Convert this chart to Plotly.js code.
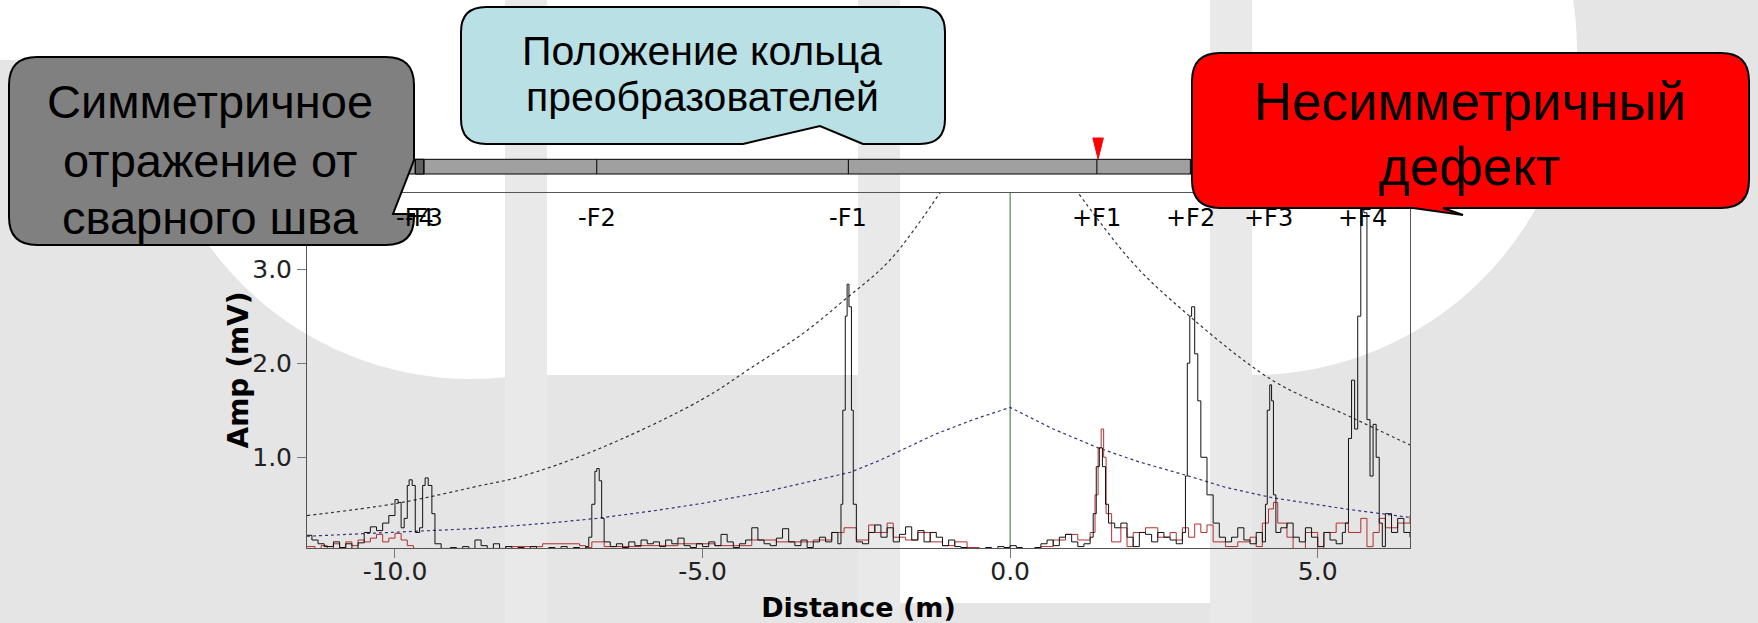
<!DOCTYPE html>
<html><head><meta charset="utf-8">
<script src="https://cdn.plot.ly/plotly-3.0.1.min.js"></script>
<style>html,body{margin:0;padding:0;background:#e5e5e5;overflow:hidden}#chart{width:1758px;height:623px}</style>
</head><body><div id="chart"></div>
<script>
// ---------------- data ----------------
const f_labels = ['-F4','-F3','-F2','-F1','+F1','+F2','+F3','+F4'];
const f_pos    = [-9.67,-9.53,-6.72,-2.63,1.41,2.93,4.20,5.72];
const ring_pos = 1.43;
const x_tickvals = [-10,-5,0,5];
const x_ticktext = ['-10.0','-5.0','0.0','5.0'];
const y_tickvals = [1,2,3];
const y_ticktext = ['1.0','2.0','3.0'];
const x_title = 'Distance (m)';
const y_title = 'Amp (mV)';

const dac_x = [-11.43,-9.97,-8.6,-7.98,-6.72,-5.02,-4.19,-3.36,-2.70,-1.95,-1.0,null,0.95,1.95,2.62,4.26,5.53,6.5];
const dac_y = [0.38,0.51,0.70,0.79,1.08,1.61,1.96,2.32,2.67,3.10,3.95,null,3.95,3.10,2.67,1.82,1.43,1.13];

const dac2_x = [-11.43,-10.0,-8.6,-7.5,-6.72,-5.8,-5.0,-4.0,-3.0,-2.6,-2.11,-1.2,-0.6,0,0.7,1.43,2.1,2.85,3.5,4.26,5.45,6.5];
const dac2_y = [0.16,0.20,0.245,0.30,0.35,0.43,0.51,0.63,0.78,0.84,0.97,1.25,1.40,1.53,1.30,1.10,0.95,0.81,0.68,0.57,0.45,0.36];

const black_x = [-11.43,-11.35,-11.25,-11.15,-11.0,-10.9,-10.8,-10.7,-10.6,-10.5,-10.4,-10.3,-10.2,-10.1,-10.0,-9.95,-9.9,-9.85,-9.8,-9.77,-9.72,-9.67,-9.6,-9.55,-9.51,-9.46,-9.4,-9.35,-9.25,
-9.1,-9.0,-8.9,-8.8,-8.7,-8.6,-8.5,-8.4,-8.3,-8.2,-8.1,-8.0,-7.9,-7.8,-7.7,-7.6,-7.5,-7.4,-7.3,-7.2,-7.1,-7.0,-6.9,
-6.85,-6.8,-6.75,-6.72,-6.68,-6.64,-6.6,-6.5,
-6.4,-6.3,-6.2,-6.1,-6.0,-5.9,-5.8,-5.7,-5.6,-5.5,-5.4,-5.3,-5.2,-5.1,-5.0,-4.9,-4.8,-4.7,-4.6,-4.5,-4.4,-4.3,-4.2,-4.1,-4.0,-3.9,-3.8,-3.7,-3.6,-3.5,-3.4,-3.3,-3.2,-3.1,-3.0,-2.9,-2.8,
-2.75,-2.72,-2.68,-2.65,-2.62,-2.58,-2.55,-2.5,
-2.4,-2.3,-2.2,-2.1,-2.0,-1.9,-1.8,-1.7,-1.6,-1.5,-1.4,-1.3,-1.2,-1.1,-1.0,-0.9,-0.8,-0.7,-0.6,-0.5,-0.4,-0.3,-0.2,-0.1,0,0.1,0.2,0.3,
0.4,0.5,0.6,0.7,0.8,0.9,1.0,1.1,1.2,1.3,1.35,1.4,1.45,1.5,1.55,1.6,1.7,1.8,1.9,2.0,2.1,2.2,2.3,2.4,2.5,2.6,2.7,2.8,
2.85,2.88,2.92,2.95,3.0,3.05,3.1,3.2,3.3,3.4,3.5,3.6,3.7,3.8,3.9,4.0,4.1,
4.15,4.18,4.22,4.25,4.28,4.32,4.4,4.5,4.6,4.7,4.8,4.9,5.0,5.1,5.2,5.3,5.4,5.45,
5.5,5.55,5.6,5.65,5.7,5.75,5.8,5.85,5.9,5.95,6.0,6.05,6.1,6.2,6.3,6.4,6.5];
const black_y = [0.17,0.12,0.08,0.05,0.10,0.04,0.08,0.03,0.09,0.20,0.26,0.22,0.30,0.38,0.55,0.52,0.25,0.35,0.70,0.76,0.70,0.20,0.25,0.70,0.78,0.70,0.40,0.08,0.03,
0.04,0.02,0.05,0.03,0.12,0.06,0.03,0.08,0.02,0.05,0.03,0.04,0.02,0.05,0.03,0.02,0.04,0.03,0.05,0.02,0.04,0.03,0.05,
0.15,0.50,0.85,0.88,0.75,0.35,0.10,0.05,
0.08,0.04,0.10,0.06,0.12,0.08,0.10,0.05,0.12,0.08,0.14,0.06,0.04,0.08,0.05,0.10,0.06,0.18,0.10,0.04,0.08,0.12,0.25,0.12,0.08,0.06,0.14,0.24,0.10,0.06,0.12,0.04,0.10,0.15,0.10,0.20,0.08,
0.50,1.50,2.50,2.84,2.60,1.50,0.50,0.10,
0.08,0.20,0.28,0.15,0.25,0.10,0.18,0.26,0.12,0.22,0.10,0.20,0.15,0.06,0.12,0.05,0.04,0.02,0.03,0.02,0.04,0.02,0.05,0.04,0.06,0.04,0.02,0.00,
0.04,0.08,0.12,0.06,0.15,0.18,0.10,0.05,0.08,0.15,0.40,0.90,1.10,0.90,0.50,0.30,0.25,0.30,0.15,0.05,0.20,0.18,0.10,0.20,0.15,0.12,0.08,0.20,
0.80,2.00,2.50,2.60,2.10,1.60,1.00,0.60,0.30,0.15,0.10,0.15,0.25,0.12,0.08,0.20,0.10,
0.50,1.50,1.77,1.60,0.60,0.20,0.25,0.30,0.15,0.10,0.25,0.15,0.05,0.20,0.12,0.08,0.20,0.30,
1.20,1.82,1.30,2.50,3.65,3.60,1.40,0.80,1.35,1.00,0.30,0.05,0.40,0.20,0.35,0.20,0.15];

const red_x = [-11.43,-11.3,-11.2,-11.1,-11.0,-10.9,-10.8,-10.7,-10.6,-10.5,-10.4,-10.3,-10.2,-10.1,-10.0,-9.9,-9.8,-9.7,-9.6,-9.5,-9.4,-9.3,
-8.2,-7.6,-7.0,-6.9,-6.8,-6.6,-6.0,-5.4,-4.8,-4.2,-3.8,-3.2,-2.9,-2.7,-2.5,-2.3,-2.2,-2.0,-1.9,-1.7,-1.5,-1.3,-1.1,-0.9,-0.7,-0.5,0,0.3,0.5,0.7,0.9,1.1,1.3,
1.38,1.43,1.48,1.52,1.56,1.65,1.8,1.9,2.0,2.2,2.4,2.6,2.7,2.8,2.9,3.0,3.1,3.2,3.3,3.5,3.7,3.9,4.0,4.1,4.2,4.28,4.35,4.5,4.6,4.8,5.0,5.1,5.3,5.5,5.7,5.8,5.9,6.0,6.1,6.3,6.5];
const red_y = [0.05,0.02,0.06,0.03,0.08,0.04,0.10,0.06,0.12,0.10,0.14,0.18,0.10,0.14,0.19,0.12,0.06,0.03,0.02,0.03,0.02,0.03,
0.05,0.08,0.06,0.04,0.10,0.05,0.06,0.08,0.06,0.12,0.10,0.12,0.20,0.25,0.12,0.28,0.20,0.30,0.15,0.12,0.20,0.10,0.06,0.10,0.04,0.02,0.03,0.02,0.05,0.12,0.18,0.12,0.20,
0.60,1.10,1.30,1.00,0.40,0.10,0.25,0.05,0.20,0.25,0.15,0.20,0.12,0.25,0.15,0.29,0.20,0.28,0.10,0.05,0.10,0.15,0.05,0.30,0.45,0.52,0.30,0.15,0.02,0.20,0.00,0.20,0.30,0.20,0.35,0.05,0.20,0.35,0.25,0.30,0.38];

const note_weld   = ['Симметричное','отражение от','сварного шва'];
const note_ring   = ['Положение кольца','преобразователей'];
const note_defect = ['Несимметричный','дефект'];

// ---------------- geometry helpers (pixels -> paper) ----------------
const L=307, R=1410, T=193, B=548;
const px = v => (v-L)/(R-L);
const py = v => (B-v)/(B-T);
function path(cmds){
  return cmds.map(c=>{
    if(c[0]==='Z') return 'Z';
    let s=c[0];
    for(let i=1;i<c.length;i+=2){ s+=' '+px(c[i]).toFixed(5)+','+py(c[i+1]).toFixed(5); }
    return s;
  }).join(' ');
}
const WHITE='#ffffff', BG='#e5e5e5';
const shapes = [];
// background decoration
shapes.push({type:'circle',xref:'paper',yref:'paper',x0:px(147),x1:px(795),y0:py(379),y1:py(-269),fillcolor:WHITE,line:{width:0},layer:'below'});
shapes.push({type:'rect',xref:'paper',yref:'paper',x0:px(-5),x1:px(505),y0:py(60),y1:py(-5),fillcolor:WHITE,line:{width:0},layer:'below'});
shapes.push({type:'rect',xref:'paper',yref:'paper',x0:px(545),x1:px(860),y0:py(375),y1:py(-5),fillcolor:WHITE,line:{width:0},layer:'below'});
shapes.push({type:'rect',xref:'paper',yref:'paper',x0:px(900),x1:px(1210),y0:py(603),y1:py(-5),fillcolor:WHITE,line:{width:0},layer:'below'});
shapes.push({type:'circle',xref:'paper',yref:'paper',x0:px(927),x1:px(1577),y0:py(375),y1:py(-275),fillcolor:WHITE,line:{width:0},layer:'below'});
[[505,547],[858,900],[1210,1252]].forEach(b=>shapes.push({type:'rect',xref:'paper',yref:'paper',x0:px(b[0]),x1:px(b[1]),y0:py(630),y1:py(-5),fillcolor:'#e9e9e9',line:{width:0},layer:'below'}));

// pipe bar with transducer ring marks
shapes.push({type:'rect',xref:'paper',yref:'paper',x0:px(360),x1:px(1410),y0:py(174),y1:py(159.3),fillcolor:'#a0a0a0',line:{color:'#000',width:1},layer:'above'});
shapes.push({type:'rect',xref:'x',yref:'paper',x0:f_pos[0],x1:f_pos[1],y0:py(174),y1:py(159.3),fillcolor:'#606060',line:{color:'#000',width:1},layer:'above'});
f_pos.forEach(f=>shapes.push({type:'line',xref:'x',yref:'paper',x0:f,x1:f,y0:py(174),y1:py(159.3),line:{color:'#000',width:1},layer:'above'}));
shapes.push({type:'path',xref:'x',yref:'paper',path:'M '+(ring_pos-0.085)+','+py(138)+' L '+(ring_pos+0.085)+','+py(138)+' L '+ring_pos+','+py(159)+' Z',fillcolor:'#ff0000',line:{color:'#ff0000',width:1},layer:'above'});
// zero line
shapes.push({type:'line',xref:'x',yref:'paper',x0:0,x1:0,y0:0,y1:1,line:{color:'#2f6f2f',width:1},layer:'below'});

// callouts
shapes.push({type:'path',xref:'paper',yref:'paper',layer:'above',fillcolor:'#808080',line:{color:'#000',width:2},
  path:path([['M',37,57],['L',386,57],['Q',414,57,414,85],['L',414,160],['L',393,214],['L',414,214],['L',414,217],['Q',414,245,386,245],['L',37,245],['Q',9,245,9,217],['L',9,85],['Q',9,57,37,57],['Z']])});
shapes.push({type:'path',xref:'paper',yref:'paper',layer:'above',fillcolor:'#b9e0e4',line:{color:'#000',width:2},
  path:path([['M',486,7],['L',920,7],['Q',945,7,945,32],['L',945,119],['Q',945,144,920,144],['L',863,144],['L',820,126],['L',743,144],['L',486,144],['Q',461,144,461,119],['L',461,32],['Q',461,7,486,7],['Z']])});
shapes.push({type:'path',xref:'paper',yref:'paper',layer:'above',fillcolor:'#ff0000',line:{color:'#000',width:2},
  path:path([['M',1220,53],['L',1721,53],['Q',1749,53,1749,81],['L',1749,180],['Q',1749,208,1721,208],['L',1443,208],['L',1463,215],['L',1413,208],['L',1220,208],['Q',1192,208,1192,180],['L',1192,81],['Q',1192,53,1220,53],['Z']])});

const annotations = [];
f_labels.forEach((t,i)=>annotations.push({x:f_pos[i],xref:'x',y:py(218),yref:'paper',text:t,showarrow:false,xanchor:'center',yanchor:'middle',font:{family:'DejaVu Sans',size:24,color:'#000'}}));
const A = (t,x,y,fam,size)=>annotations.push({x:px(x),y:py(y),xref:'paper',yref:'paper',text:t,showarrow:false,xanchor:'center',yanchor:'middle',font:{family:fam,size:size,color:'#000'}});
note_weld.forEach((t,i)=>A(t,210,[102,161,217.5][i],'Liberation Sans',47));
note_ring.forEach((t,i)=>A(t,702,[51,97][i],'Liberation Sans',41));
note_defect.forEach((t,i)=>A(t,1470,[101.5,166][i],'Liberation Sans',53));
// y-axis title
annotations.push({x:px(238),y:py(370.5),xref:'paper',yref:'paper',text:y_title,textangle:-90,showarrow:false,xanchor:'center',yanchor:'middle',font:{family:'DejaVu Sans',size:28,weight:'bold',color:'#000'}});

const traces = [
  {x:dac_x,y:dac_y,mode:'lines',line:{color:'#333333',width:1.2,dash:'dot',shape:'spline'},connectgaps:false,hoverinfo:'skip'},
  {x:dac2_x,y:dac2_y,mode:'lines',line:{color:'#33337a',width:1.2,dash:'dot',shape:'linear'},hoverinfo:'skip'},
  {x:red_x,y:red_y,mode:'lines',line:{color:'#b03030',width:1,shape:'hv'},hoverinfo:'skip'},
  {x:black_x,y:black_y,mode:'lines',line:{color:'#111111',width:1,shape:'hv'},hoverinfo:'skip'}
];

const layout = {
  width:1758,height:623,
  margin:{l:L,r:1758-R,t:T,b:623-B,pad:0},
  paper_bgcolor:BG, plot_bgcolor:'rgba(0,0,0,0)',
  showlegend:false,
  xaxis:{range:[-11.43,6.5],tickvals:x_tickvals,ticktext:x_ticktext,ticks:'outside',ticklen:9,tickcolor:'#777',ticklabelstandoff:-8,
    showgrid:false,zeroline:false,showline:true,linecolor:'#555',linewidth:1,mirror:true,
    tickfont:{family:'DejaVu Sans',size:25,color:'#222'},
    title:{text:x_title,font:{family:'DejaVu Sans',size:27,weight:'bold',color:'#000'},standoff:15}},
  yaxis:{range:[0.035,3.81],tickvals:y_tickvals,ticktext:y_ticktext,ticks:'outside',ticklen:9,tickcolor:'#777',
    showgrid:false,zeroline:false,showline:true,linecolor:'#555',linewidth:1,mirror:true,
    tickfont:{family:'DejaVu Sans',size:25,color:'#222'}},
  shapes:shapes, annotations:annotations
};
Plotly.newPlot('chart',traces,layout,{staticPlot:true,displayModeBar:false});
</script>
</body></html>
